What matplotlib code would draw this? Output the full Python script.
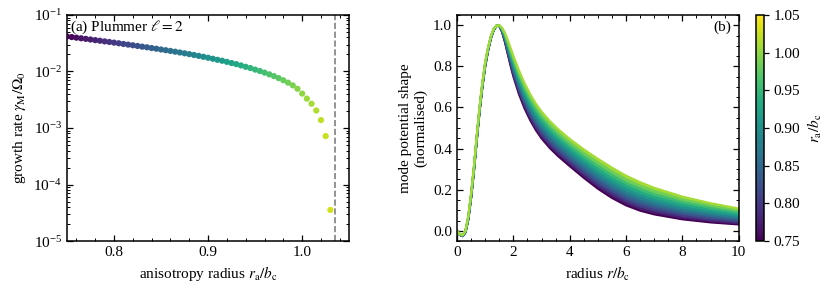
import numpy as np
import matplotlib
matplotlib.use("Agg")
import matplotlib.pyplot as plt
from matplotlib.ticker import MultipleLocator, FormatStrFormatter, LogLocator

plt.rcParams['font.family'] = ['Liberation Serif', 'DejaVu Serif']
plt.rcParams['mathtext.fontset'] = 'stix'
plt.rcParams['font.size'] = 11

# ---- panel (a) data: growth rate vs anisotropy radius ----
ra_a = [0.750, 0.755, 0.760, 0.765, 0.770, 0.775, 0.780, 0.785, 0.790, 0.795,
        0.800, 0.805, 0.810, 0.815, 0.820, 0.825, 0.830, 0.835, 0.840, 0.845,
        0.850, 0.855, 0.860, 0.865, 0.870, 0.875, 0.880, 0.885, 0.890, 0.895,
        0.900, 0.905, 0.910, 0.915, 0.920, 0.925, 0.930, 0.935, 0.940, 0.945,
        0.950, 0.955, 0.960, 0.965, 0.970, 0.975, 0.980, 0.985, 0.990, 0.995,
        1.000, 1.005, 1.010, 1.015, 1.020, 1.025, 1.030]
growth = [0.0417, 0.0407, 0.0397, 0.0387, 0.0378, 0.0368, 0.0359, 0.0350, 0.0341, 0.0333,
          0.0324, 0.0316, 0.0307, 0.0299, 0.0291, 0.0283, 0.0275, 0.0268, 0.0260, 0.0253,
          0.0245, 0.0238, 0.0231, 0.0224, 0.0217, 0.0210, 0.0203, 0.0196, 0.0189, 0.0182,
          0.0175, 0.0168, 0.0161, 0.0155, 0.0148, 0.0141, 0.0135, 0.0128, 0.0121, 0.0115,
          0.0108, 0.0102, 0.00955, 0.00891, 0.00828, 0.00764, 0.00700, 0.00635, 0.00569, 0.00495,
          0.00407, 0.00331, 0.00269, 0.00204, 0.00138, 0.00072, 0.0000355]
ra_limit = 1.035

# ---- panel (b) data: normalised mode potential shapes ----
radius = [0, 0.1, 0.2, 0.3, 0.4, 0.5, 0.6, 0.7, 0.8, 0.9, 1.0, 1.1, 1.2, 1.3, 1.4, 1.5,
          1.6, 1.7, 1.8, 1.9, 2.0, 2.2, 2.4, 2.6, 2.8, 3.0, 3.3, 3.6, 4.0, 4.5, 5.0,
          5.5, 6.0, 6.5, 7.0, 8.0, 9.0, 10.0]
ra_b = [0.75, 0.776, 0.802, 0.828, 0.854, 0.88, 0.906, 0.932, 0.958, 0.984, 1.01]
shape_0 = [0, -0.020, -0.026, -0.008, 0.055, 0.160, 0.290, 0.440, 0.580, 0.700, 0.800, 0.875, 0.935, 0.975, 0.997, 0.997, 0.968, 0.920, 0.862, 0.805, 0.752, 0.665, 0.595, 0.538, 0.490, 0.450, 0.402, 0.362, 0.315, 0.258, 0.205, 0.160, 0.124, 0.098, 0.080, 0.056, 0.041, 0.031]
shape_1 = [0, -0.020, -0.026, -0.007, 0.056, 0.162, 0.292, 0.442, 0.582, 0.702, 0.802, 0.876, 0.936, 0.976, 0.997, 0.997, 0.970, 0.923, 0.867, 0.812, 0.760, 0.674, 0.605, 0.548, 0.500, 0.460, 0.413, 0.373, 0.326, 0.269, 0.217, 0.172, 0.136, 0.109, 0.090, 0.065, 0.048, 0.037]
shape_2 = [0, -0.020, -0.025, -0.007, 0.057, 0.163, 0.293, 0.443, 0.583, 0.703, 0.803, 0.877, 0.937, 0.976, 0.997, 0.997, 0.971, 0.927, 0.873, 0.819, 0.768, 0.683, 0.615, 0.558, 0.511, 0.471, 0.423, 0.383, 0.336, 0.280, 0.228, 0.184, 0.147, 0.120, 0.101, 0.074, 0.056, 0.043]
shape_3 = [0, -0.019, -0.025, -0.006, 0.059, 0.165, 0.295, 0.445, 0.585, 0.705, 0.805, 0.879, 0.938, 0.977, 0.997, 0.998, 0.973, 0.931, 0.879, 0.826, 0.777, 0.694, 0.626, 0.570, 0.522, 0.483, 0.435, 0.395, 0.348, 0.293, 0.241, 0.197, 0.160, 0.133, 0.112, 0.084, 0.064, 0.050]
shape_4 = [0, -0.019, -0.024, -0.005, 0.060, 0.167, 0.297, 0.447, 0.587, 0.707, 0.807, 0.880, 0.938, 0.977, 0.997, 0.998, 0.975, 0.935, 0.884, 0.834, 0.786, 0.704, 0.637, 0.581, 0.534, 0.494, 0.447, 0.407, 0.360, 0.305, 0.254, 0.210, 0.173, 0.145, 0.124, 0.093, 0.073, 0.057]
shape_5 = [0, -0.019, -0.024, -0.005, 0.062, 0.169, 0.299, 0.449, 0.589, 0.709, 0.809, 0.882, 0.939, 0.978, 0.997, 0.998, 0.977, 0.939, 0.891, 0.842, 0.796, 0.716, 0.649, 0.593, 0.546, 0.507, 0.460, 0.420, 0.373, 0.319, 0.269, 0.225, 0.187, 0.159, 0.137, 0.104, 0.082, 0.065]
shape_6 = [0, -0.018, -0.023, -0.004, 0.063, 0.171, 0.301, 0.451, 0.591, 0.711, 0.811, 0.883, 0.940, 0.979, 0.998, 0.999, 0.979, 0.943, 0.898, 0.851, 0.806, 0.727, 0.661, 0.606, 0.559, 0.520, 0.473, 0.433, 0.386, 0.333, 0.283, 0.239, 0.202, 0.173, 0.150, 0.115, 0.091, 0.073]
shape_7 = [0, -0.018, -0.023, -0.003, 0.065, 0.173, 0.303, 0.453, 0.593, 0.713, 0.813, 0.885, 0.942, 0.980, 0.998, 0.999, 0.981, 0.948, 0.905, 0.860, 0.817, 0.740, 0.674, 0.620, 0.573, 0.535, 0.487, 0.447, 0.401, 0.348, 0.299, 0.256, 0.218, 0.188, 0.164, 0.128, 0.102, 0.081]
shape_8 = [0, -0.018, -0.022, -0.002, 0.066, 0.175, 0.305, 0.455, 0.595, 0.715, 0.815, 0.886, 0.943, 0.980, 0.998, 0.999, 0.983, 0.953, 0.912, 0.870, 0.828, 0.752, 0.688, 0.634, 0.587, 0.549, 0.502, 0.462, 0.415, 0.363, 0.315, 0.272, 0.233, 0.203, 0.178, 0.140, 0.112, 0.090]
shape_9 = [0, -0.017, -0.022, -0.001, 0.068, 0.178, 0.308, 0.458, 0.598, 0.718, 0.818, 0.888, 0.944, 0.981, 0.998, 1.000, 0.986, 0.958, 0.920, 0.880, 0.840, 0.766, 0.702, 0.649, 0.603, 0.564, 0.517, 0.477, 0.431, 0.379, 0.333, 0.289, 0.251, 0.219, 0.194, 0.153, 0.123, 0.099]
shape_10 = [0, -0.017, -0.021, 0.000, 0.070, 0.180, 0.310, 0.460, 0.600, 0.720, 0.820, 0.890, 0.945, 0.982, 0.998, 1.000, 0.988, 0.963, 0.928, 0.890, 0.852, 0.780, 0.717, 0.664, 0.618, 0.580, 0.533, 0.493, 0.447, 0.396, 0.350, 0.307, 0.268, 0.236, 0.209, 0.166, 0.134, 0.108]
shapes = [shape_0, shape_1, shape_2, shape_3, shape_4, shape_5, shape_6,
          shape_7, shape_8, shape_9, shape_10]

cbar_ticks = [0.75, 0.80, 0.85, 0.90, 0.95, 1.00, 1.05]
vmin, vmax = 0.75, 1.05
cmap = plt.get_cmap('viridis')
norm = matplotlib.colors.Normalize(vmin=vmin, vmax=vmax)

fig = plt.figure(figsize=(8.3, 2.88), dpi=100)
ax1 = fig.add_axes([0.0807, 0.163, 0.340, 0.785])
ax2 = fig.add_axes([0.5506, 0.163, 0.3394, 0.785])
cax = fig.add_axes([0.911, 0.163, 0.0096, 0.785])

def style(ax):
    ax.tick_params(which='both', direction='in', top=True, right=True)
    ax.tick_params(which='major', length=4, width=0.9)
    ax.tick_params(which='minor', length=2, width=0.7)
    for s in ax.spines.values():
        s.set_linewidth(1.1)

# panel a
ax1.scatter(ra_a, growth, c=ra_a, cmap=cmap, norm=norm, s=20, edgecolors='none', zorder=3)
ax1.axvline(ra_limit, color='grey', ls='--', lw=1.2)
ax1.set_yscale('log')
ax1.set_xlim(0.75, 1.05)
ax1.set_ylim(1e-5, 1e-1)
ax1.xaxis.set_major_locator(MultipleLocator(0.1))
ax1.xaxis.set_minor_locator(MultipleLocator(0.02))
ax1.xaxis.set_major_formatter(FormatStrFormatter('%.1f'))
ax1.yaxis.set_major_locator(LogLocator(base=10, numticks=10))
ax1.yaxis.set_minor_locator(LogLocator(base=10, subs=np.arange(2, 10), numticks=10))
style(ax1)
ax1.set_xlabel(r'anisotropy radius $r_\mathrm{a}/b_\mathrm{c}$')
ax1.set_ylabel(r'growth rate $\gamma_\mathrm{M}/\Omega_0$')
ax1.text(0.01, 0.985, r'(a) Plummer $\ell=2$', transform=ax1.transAxes, ha='left', va='top')

# panel b
for i in range(len(ra_b) - 1):
    ax2.fill_between(radius, shapes[i], shapes[i + 1], color=cmap(norm(ra_b[i + 1])), lw=0)
for ra, sh in zip(ra_b, shapes):
    ax2.plot(radius, sh, color=cmap(norm(ra)), lw=1.6)
ax2.set_xlim(0, 10)
ax2.set_ylim(-0.05, 1.05)
ax2.xaxis.set_major_locator(MultipleLocator(2))
ax2.xaxis.set_minor_locator(MultipleLocator(0.5))
ax2.yaxis.set_major_locator(MultipleLocator(0.2))
ax2.yaxis.set_minor_locator(MultipleLocator(0.05))
ax2.yaxis.set_major_formatter(FormatStrFormatter('%.1f'))
style(ax2)
ax2.set_xlabel(r'radius $r/b_\mathrm{c}$')
ax2.set_ylabel('mode potential shape\n(normalised)')
ax2.text(0.975, 0.975, '(b)', transform=ax2.transAxes, ha='right', va='top')

cb = fig.colorbar(matplotlib.cm.ScalarMappable(norm=norm, cmap=cmap), cax=cax)
cb.set_ticks(cbar_ticks)
cb.ax.yaxis.set_major_formatter(FormatStrFormatter('%.2f'))
cb.ax.tick_params(direction='out', length=3.5, width=0.9)
cb.outline.set_linewidth(1.1)
cb.set_label(r'$r_\mathrm{a}/b_\mathrm{c}$')

fig.savefig('out.png', dpi=100)
